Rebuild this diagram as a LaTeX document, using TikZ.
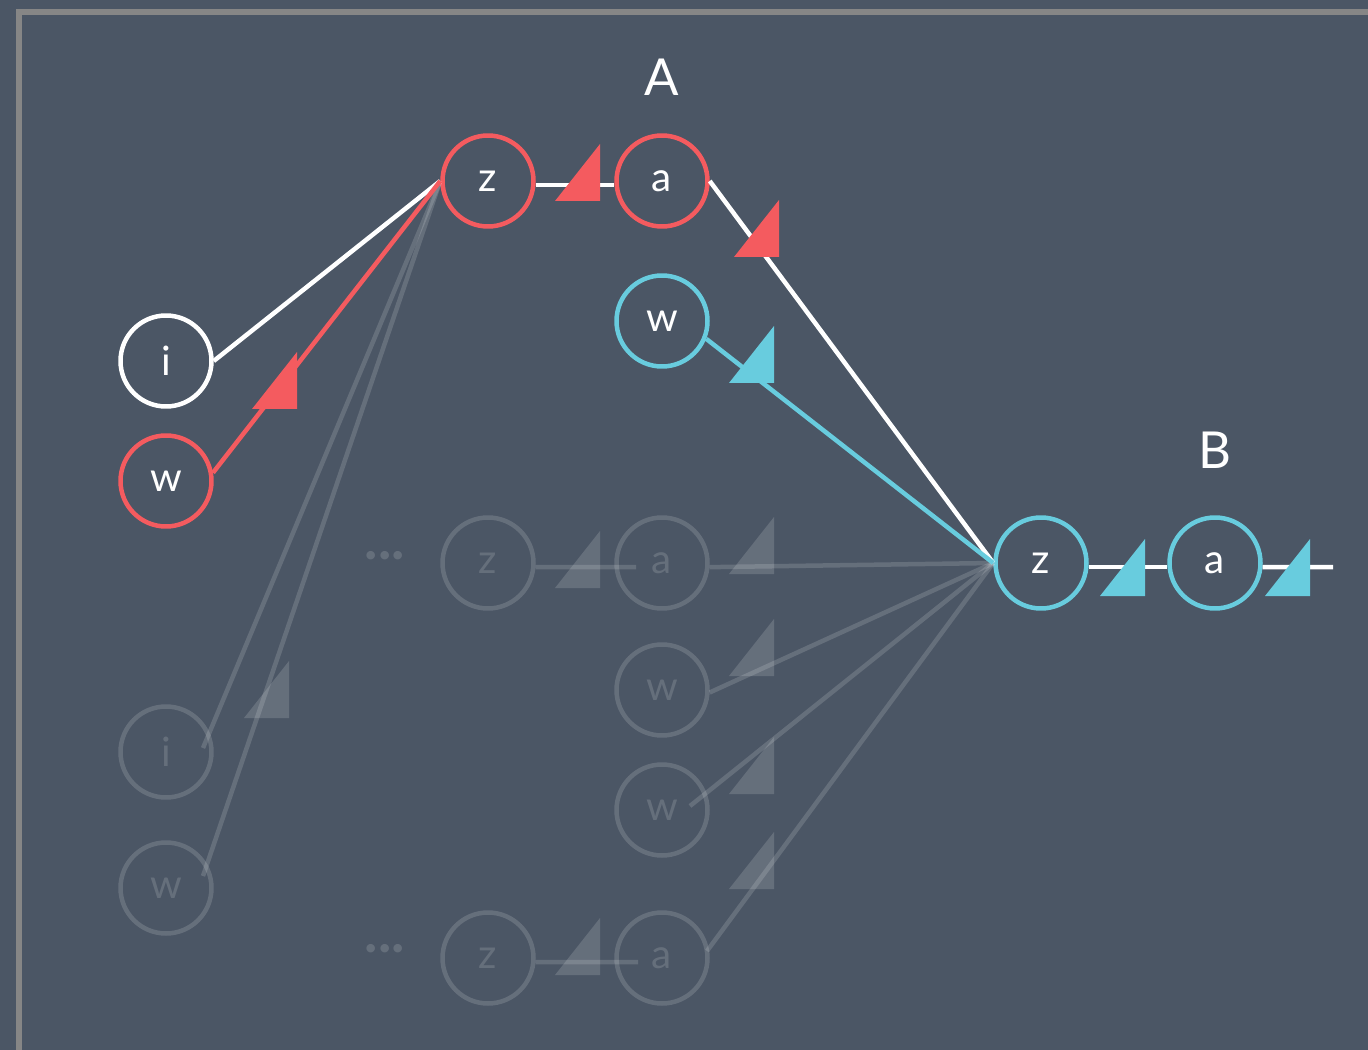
\documentclass[tikz,border=0pt]{standalone}
\usepackage{fontspec}
\setmainfont{Lato}

\definecolor{slate}{HTML}{4B5665}
\definecolor{framegray}{HTML}{868686}
\definecolor{hot}{HTML}{F45B5F}
\definecolor{cool}{HTML}{68CCDE}

% little right-angled flag, bottom right corner at (#1,#2)
\newcommand{\wedgeat}[3]{\fill[#3] (#1,#2) -- ++(0,-57) -- ++(-45,57) -- cycle;}

\begin{document}
\begin{tikzpicture}[x=0.02cm,y=-0.02cm,
    ele/.style={circle,draw,line width=.09cm,minimum size=1.82cm,inner sep=0pt,
      text=white,font=\fontsize{23}{25}\selectfont},
    ghost/.style={ele,draw=white,opacity=.15},
    link/.style={line width=.09cm},
    faint/.style={link,white,opacity=.15},
    head/.style={text=white,font=\fontsize{29}{32}\selectfont},
    etc/.style={anchor=base,text=white,opacity=.15,font=\fontsize{32}{34}\selectfont\bfseries}]

    \useasboundingbox (0,0) rectangle (1368,1050);
    \fill[slate] (0,0) rectangle (1368,1050);
    \draw[framegray,line width=.12cm] (19,1050) -- (19,12) -- (1368,12);

    % the layer headings
    \node[head] (hA) at (662,77) {A};
    \node[head] (hB) at (1215,450) {B};

    % the live cells
    \node[ele,draw=white] (iIn) at (166,361) {i};
    \node[ele,draw=hot] (wIn) at (166,481) {w};
    \node[ele,draw=hot] (zA) at (488,181) {z};
    \node[ele,draw=hot] (aA) at (662,181) {a};
    \node[ele,draw=cool] (wA) at (662,321) {w};
    \node[ele,draw=cool] (zB) at (1041,563) {z};
    \node[ele,draw=cool] (aB) at (1215,563) {a};
    \coordinate (out) at (1333,567);

    % the faded cells
    \node[ghost] (iF) at (166,752) {i};
    \node[ghost] (wF) at (166,888) {w};
    \node[ghost] (zC) at (488,563) {z};
    \node[ghost] (aC) at (662,563) {a};
    \node[ghost] (wC) at (662,690) {w};
    \node[ghost] (wD) at (662,810) {w};
    \node[ghost] (zD) at (488,958) {z};
    \node[ghost] (aD) at (662,958) {a};
    \node[etc] (dotsC) at (385,559) {...};
    \node[etc] (dotsD) at (385,952) {...};

    % faded connections
    \draw[faint] (zA.west) -- ([shift={(37,-4)}]iF.center);
    \draw[faint] (zA.west) -- ([shift={(37,-12)}]wF.center);
    \draw[faint] (zC.-5) -- ([shift={(-26,4)}]aC.center);
    \draw[faint] (aC.-5) -- (zB.west);
    \draw[faint] (wC.-3) -- (zB.west);
    \draw[faint] ([shift={(28,-4)}]wD.center) -- (zB.west);
    \draw[faint] ([shift={(45,-7)}]aD.center) -- (zB.west);
    \draw[faint] (zD.-5) -- ([shift={(-24,4)}]aD.center);
    \wedgeat{289}{718}{white,opacity=.15}
    \wedgeat{600}{588}{white,opacity=.15}
    \wedgeat{774}{574}{white,opacity=.15}
    \wedgeat{774}{676}{white,opacity=.15}
    \wedgeat{774}{794}{white,opacity=.15}
    \wedgeat{774}{889}{white,opacity=.15}
    \wedgeat{600}{975}{white,opacity=.15}

    % live connections
    \draw[link,white] (iIn.east) -- (zA.west);
    \draw[link,hot] (wIn.10) -- (zA.west);
    \draw[link,white] (zA.-5) -- (aA.185);
    \draw[link,white] (aA.east) -- (zB.west);
    \draw[link,cool] (wA.-22) -- (zB.west);
    \draw[link,white] (zB.-5) -- (aB.185);
    \draw[link,white] (aB.-5) -- (out);
    \wedgeat{297}{409}{hot}
    \wedgeat{600}{201}{hot}
    \wedgeat{779}{257}{hot}
    \wedgeat{774}{383}{cool}
    \wedgeat{1145}{596}{cool}
    \wedgeat{1310}{596}{cool}
  \end{tikzpicture}
\end{document}
